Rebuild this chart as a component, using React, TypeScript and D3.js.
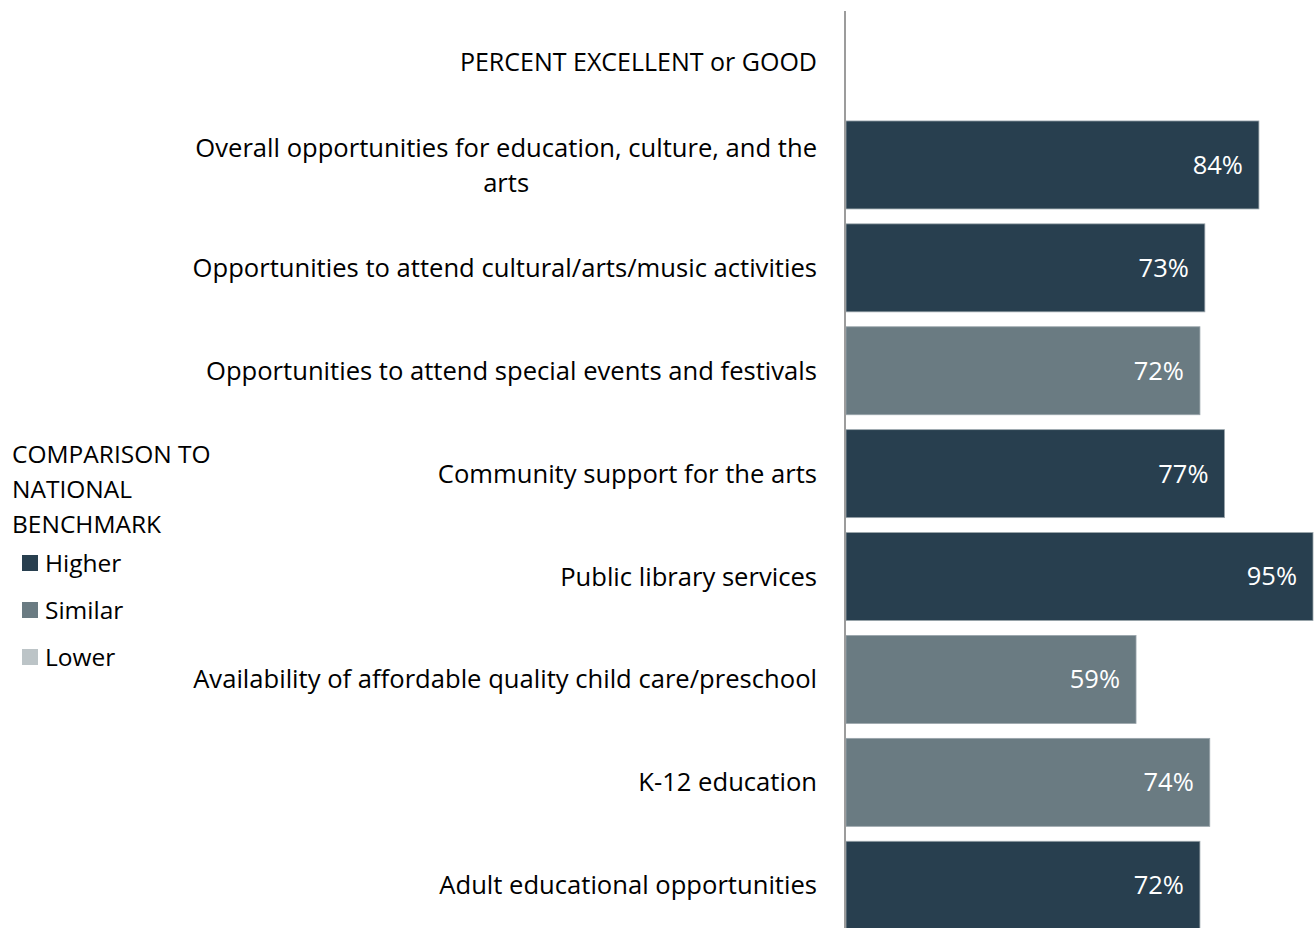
import React, { useEffect, useRef } from "react";
import * as d3 from "d3";

const header = "PERCENT EXCELLENT or GOOD";
const categories = [
  "Overall opportunities for education, culture, and the arts",
  "Opportunities to attend cultural/arts/music activities",
  "Opportunities to attend special events and festivals",
  "Community support for the arts",
  "Public library services",
  "Availability of affordable quality child care/preschool",
  "K-12 education",
  "Adult educational opportunities",
];
const values = [84, 73, 72, 77, 95, 59, 74, 72];
const comparison = ["Higher", "Higher", "Similar", "Higher", "Higher", "Similar", "Similar", "Higher"];
const legendTitle = ["COMPARISON TO", "NATIONAL", "BENCHMARK"];
const legendKeys = ["Higher", "Similar", "Lower"];
const legendColors = ["#283F4F", "#6A7B82", "#BCC4C7"];

const W = 1315;
const H = 928;
const FONT = "'Open Sans', sans-serif";
const FS = 25.6;
const FS_HEAD = 25;
const FS_LEG = 24.5;
const FS_VAL = 25.5;

export default function App() {
  const ref = useRef<SVGSVGElement | null>(null);
  useEffect(() => {
    document.body.style.margin = "0";
    const svg = d3.select(ref.current);
    svg.selectAll("*").remove();
    const color = d3.scaleOrdinal<string, string>().domain(legendKeys).range(legendColors);
    const x = d3.scaleLinear().domain([0, 95]).range([846, 1313]);
    const y = d3
      .scaleBand<string>()
      .domain(["__header__", ...categories])
      .range([10.6, 936.7])
      .paddingInner(0.145)
      .paddingOuter(0.0725);
    const labelX = 817;

    const g = svg.append("g");
    categories.forEach((c, i) => {
      g.append("rect")
        .attr("x", x(0))
        .attr("y", y(c)!)
        .attr("width", x(values[i]) - x(0))
        .attr("height", y.bandwidth())
        .attr("fill", color(comparison[i]))
        .attr("stroke", "#9aa5ab")
        .attr("stroke-width", 0.8);
      g.append("text")
        .attr("x", x(values[i]) - 16)
        .attr("y", y(c)! + y.bandwidth() / 2)
        .attr("dy", "0.35em")
        .attr("text-anchor", "end")
        .attr("fill", "#ffffff")
        .attr("font-family", FONT)
        .attr("font-size", FS_VAL)
        .text(values[i] + "%");
    });

    svg
      .append("line")
      .attr("x1", 845)
      .attr("x2", 845)
      .attr("y1", 11)
      .attr("y2", H)
      .attr("stroke", "#9c9c9c")
      .attr("stroke-width", 2);

    svg
      .append("text")
      .attr("x", labelX)
      .attr("y", y("__header__")! + y.bandwidth() / 2)
      .attr("dy", "0.35em")
      .attr("text-anchor", "end")
      .attr("font-family", FONT)
      .attr("font-size", FS_HEAD)
      .attr("fill", "#000")
      .text(header);

    categories.forEach((c) => {
      const cy = y(c)! + y.bandwidth() / 2;
      if (c.startsWith("Overall")) {
        const l1 = "Overall opportunities for education, culture, and the";
        const l2 = "arts";
        const t1 = svg
          .append("text")
          .attr("x", labelX)
          .attr("y", cy - 17)
          .attr("dy", "0.35em")
          .attr("text-anchor", "end")
          .attr("font-family", FONT)
          .attr("font-size", FS)
          .text(l1);
        const w = (t1.node() as SVGTextElement).getComputedTextLength();
        svg
          .append("text")
          .attr("x", labelX - w / 2)
          .attr("y", cy + 18)
          .attr("dy", "0.35em")
          .attr("text-anchor", "middle")
          .attr("font-family", FONT)
          .attr("font-size", FS)
          .text(l2);
      } else {
        svg
          .append("text")
          .attr("x", labelX)
          .attr("y", cy)
          .attr("dy", "0.35em")
          .attr("text-anchor", "end")
          .attr("font-family", FONT)
          .attr("font-size", FS)
          .text(c);
      }
    });

    const lg = svg.append("g");
    legendTitle.forEach((t, i) => {
      lg.append("text")
        .attr("x", 12)
        .attr("y", 454 + i * 35)
        .attr("dy", "0.35em")
        .attr("font-family", FONT)
        .attr("font-size", FS_LEG)
        .text(t);
    });
    legendKeys.forEach((k, i) => {
      const cy = 563 + i * 47;
      lg.append("rect")
        .attr("x", 22)
        .attr("y", cy - 8)
        .attr("width", 16)
        .attr("height", 16)
        .attr("fill", color(k));
      lg.append("text")
        .attr("x", 45)
        .attr("y", cy)
        .attr("dy", "0.35em")
        .attr("font-family", FONT)
        .attr("font-size", FS_LEG)
        .text(k);
    });
  }, []);
  return <svg ref={ref} width={W} height={H} style={{ display: "block", background: "#fff" }} />;
}
